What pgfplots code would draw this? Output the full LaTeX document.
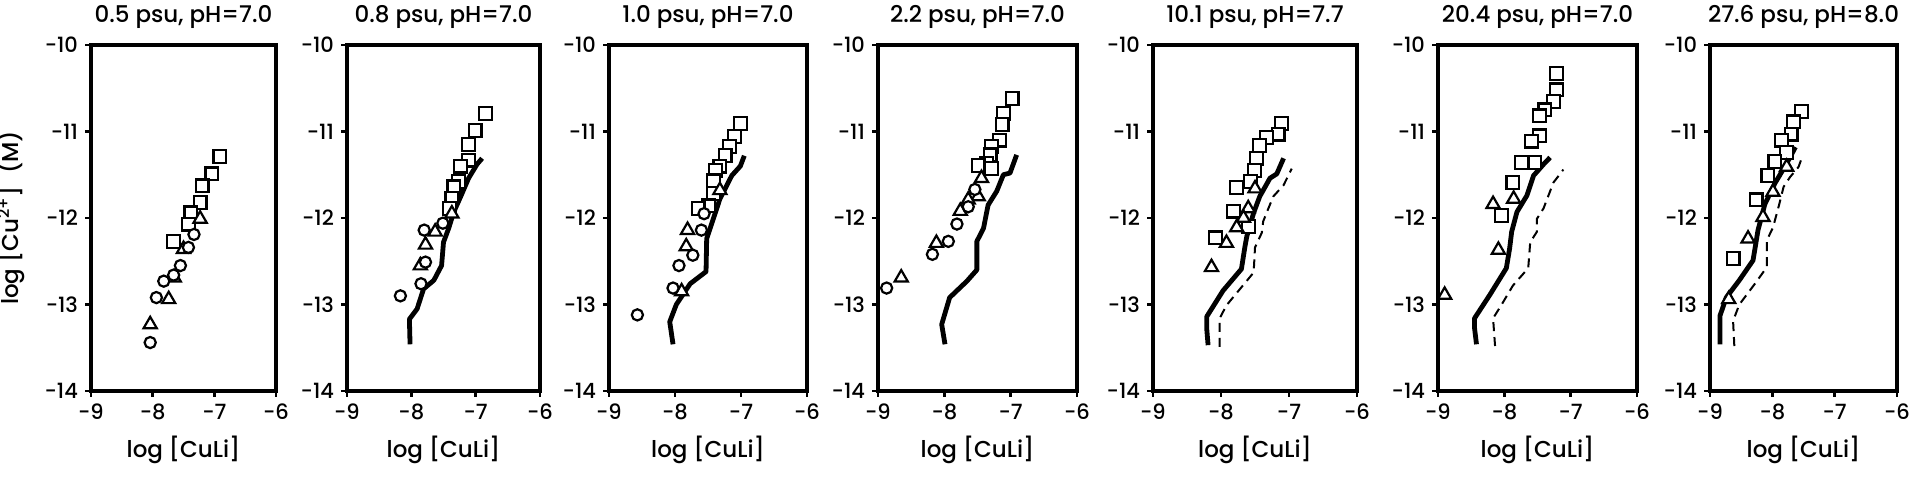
\documentclass[border=0pt]{standalone}
\usepackage{fontspec}
\IfFontExistsTF{Poppins Medium}{\setmainfont{Poppins Medium}}{\setmainfont{Poppins}}
\usepackage{pgfplots}
\pgfplotsset{compat=1.18}
\pgfplotsset{
  panel/.style={
    scale only axis, height=173pt, anchor=south west,
    xmin=-9, xmax=-6, ymin=-14, ymax=-10,
    xtick={-9,-8,-7,-6}, xticklabels={-9,-8,-7,-6},
    ytick={-14,-13,-12,-11,-10}, yticklabels={-14,-13,-12,-11,-10},
    tick align=outside, tick pos=left, major tick length=3pt,
    axis line style={line width=2.2pt},
    every tick/.style={line width=1.3pt, black},
    tick label style={font=\fontsize{10.5}{11}\selectfont},
    label style={font=\fontsize{11.5}{13}\selectfont},
    title style={font=\fontsize{11.5}{13}\selectfont, yshift=-1.5pt},
    xlabel={log [CuLi]},
    xlabel style={yshift=-1pt},
    clip=false,
  },
  sq/.style={only marks, mark=square*, mark size=3.2pt, mark options={fill=white, draw=black, line width=1.1pt}},
  tr/.style={only marks, mark=triangle*, mark size=3.8pt, mark options={fill=white, draw=black, line width=1.1pt}},
  ci/.style={only marks, mark=*, mark size=2.8pt, mark options={fill=white, draw=black, line width=1.1pt}},
  so/.style={no marks, black, line width=2.4pt, line join=round},
  da/.style={no marks, black, line width=1pt, dash pattern=on 4.5pt off 3pt},
}
\begin{document}
\begin{tikzpicture}
\useasboundingbox (0,0) rectangle (954.5pt,243pt);
% Panel 1
\begin{axis}[panel, at={(45.5pt,47.5pt)}, width=92.5pt, title={0.5 psu, pH=7.0},
  ylabel={log [Cu\textsuperscript{2+}]\ \ (M)},
  ylabel style={at={(axis description cs:0,0.5)}, anchor=center, yshift=40pt}]
\addplot[sq] coordinates {(-6.91,-11.29) (-7.04,-11.49) (-7.20,-11.63) (-7.23,-11.82) (-7.38,-11.94) (-7.42,-12.07) (-7.66,-12.27)};
\addplot[tr] coordinates {(-7.23,-12.01) (-7.50,-12.36) (-7.65,-12.69) (-7.74,-12.94) (-8.04,-13.23)};
\addplot[ci] coordinates {(-7.33,-12.19) (-7.42,-12.34) (-7.55,-12.55) (-7.66,-12.66) (-7.82,-12.73) (-7.94,-12.92) (-8.04,-13.44)};
\end{axis}
% Panel 2
\begin{axis}[panel, at={(173.5pt,47.5pt)}, width=96.5pt, title={0.8 psu, pH=7.0}]
\addplot[so] coordinates {(-8.02,-13.46) (-8.03,-13.17) (-7.91,-13.05) (-7.81,-12.82) (-7.65,-12.72) (-7.53,-12.55) (-7.50,-12.28) (-7.42,-12.12) (-7.34,-11.93) (-7.22,-11.73) (-7.11,-11.54) (-6.98,-11.38) (-6.90,-11.31)};
\addplot[sq] coordinates {(-6.85,-10.79) (-7.01,-10.99) (-7.11,-11.15) (-7.11,-11.33) (-7.24,-11.40) (-7.27,-11.58) (-7.34,-11.64) (-7.37,-11.77) (-7.41,-11.89)};
\addplot[tr] coordinates {(-7.37,-11.95) (-7.63,-12.16) (-7.78,-12.31) (-7.86,-12.55)};
\addplot[ci] coordinates {(-7.51,-12.06) (-7.80,-12.14) (-7.78,-12.51) (-7.85,-12.76) (-8.17,-12.90)};
\end{axis}
% Panel 3
\begin{axis}[panel, at={(304.5pt,47.5pt)}, width=99pt, title={1.0 psu, pH=7.0}]
\addplot[so] coordinates {(-8.03,-13.46) (-8.08,-13.20) (-7.98,-13.00) (-7.77,-12.76) (-7.53,-12.62) (-7.52,-12.24) (-7.42,-12.01) (-7.32,-11.78) (-7.14,-11.51) (-7.01,-11.40) (-6.95,-11.28)};
\addplot[sq] coordinates {(-7.01,-10.91) (-7.10,-11.06) (-7.17,-11.17) (-7.24,-11.28) (-7.32,-11.40) (-7.39,-11.45) (-7.42,-11.57) (-7.42,-11.72) (-7.49,-11.86) (-7.65,-11.89)};
\addplot[tr] coordinates {(-7.32,-11.68) (-7.81,-12.14) (-7.83,-12.33) (-7.90,-12.85)};
\addplot[ci] coordinates {(-7.56,-11.95) (-7.60,-12.14) (-7.73,-12.43) (-7.94,-12.55) (-8.03,-12.81) (-8.57,-13.12)};
\end{axis}
% Panel 4
\begin{axis}[panel, at={(439pt,47.5pt)}, width=99.5pt, title={2.2 psu, pH=7.0}]
\addplot[so] coordinates {(-7.99,-13.46) (-8.04,-13.23) (-7.92,-12.92) (-7.66,-12.73) (-7.51,-12.60) (-7.51,-12.27) (-7.41,-12.12) (-7.34,-11.85) (-7.21,-11.69) (-7.11,-11.50) (-7.01,-11.48) (-6.91,-11.27)};
\addplot[sq] coordinates {(-6.98,-10.62) (-7.11,-10.79) (-7.13,-10.92) (-7.17,-11.10) (-7.29,-11.17) (-7.31,-11.27) (-7.36,-11.37) (-7.49,-11.39) (-7.29,-11.43)};
\addplot[tr] coordinates {(-7.44,-11.54) (-7.49,-11.75) (-7.64,-11.79) (-7.76,-11.92) (-8.12,-12.29) (-8.65,-12.69)};
\addplot[ci] coordinates {(-7.54,-11.67) (-7.64,-11.87) (-7.81,-12.07) (-7.94,-12.27) (-8.18,-12.42) (-8.87,-12.81)};
\end{axis}
% Panel 5
\begin{axis}[panel, at={(576.5pt,47.5pt)}, width=102pt, title={10.1 psu, pH=7.7}]
\addplot[da] coordinates {(-8.02,-13.49) (-8.02,-13.16) (-7.92,-13.01) (-7.72,-12.82) (-7.52,-12.63) (-7.50,-12.34) (-7.40,-12.17) (-7.38,-12.04) (-7.33,-11.94) (-7.23,-11.75) (-7.08,-11.62) (-6.96,-11.43)};
\addplot[so] coordinates {(-8.19,-13.47) (-8.21,-13.28) (-8.21,-13.14) (-7.97,-12.84) (-7.70,-12.59) (-7.65,-12.34) (-7.62,-12.21) (-7.52,-11.94) (-7.43,-11.75) (-7.28,-11.54) (-7.18,-11.49) (-7.08,-11.31)};
\addplot[sq] coordinates {(-7.11,-10.91) (-7.16,-11.03) (-7.33,-11.07) (-7.43,-11.16) (-7.48,-11.31) (-7.51,-11.45) (-7.57,-11.58) (-7.77,-11.65) (-7.82,-11.92) (-8.08,-12.23) (-7.60,-12.10)};
\addplot[tr] coordinates {(-7.50,-11.66) (-7.60,-11.89) (-7.67,-12.00) (-7.77,-12.11) (-7.92,-12.29) (-8.14,-12.57)};
\end{axis}
% Panel 6
\begin{axis}[panel, at={(719pt,47.5pt)}, width=99.5pt, title={20.4 psu, pH=7.0}]
\addplot[da] coordinates {(-8.14,-13.48) (-8.17,-13.16) (-8.04,-13.00) (-7.87,-12.78) (-7.64,-12.58) (-7.61,-12.28) (-7.51,-12.16) (-7.51,-12.01) (-7.41,-11.89) (-7.26,-11.59) (-7.11,-11.44)};
\addplot[so] coordinates {(-8.42,-13.46) (-8.45,-13.27) (-8.45,-13.16) (-8.22,-12.89) (-7.97,-12.58) (-7.92,-12.35) (-7.89,-12.16) (-7.81,-11.93) (-7.66,-11.74) (-7.56,-11.51) (-7.41,-11.38) (-7.31,-11.30)};
\addplot[sq] coordinates {(-7.21,-10.33) (-7.21,-10.52) (-7.26,-10.65) (-7.39,-10.75) (-7.47,-10.82) (-7.47,-11.05) (-7.59,-11.11) (-7.54,-11.36) (-7.74,-11.36) (-7.87,-11.59) (-8.04,-11.97)};
\addplot[tr] coordinates {(-7.86,-11.78) (-8.17,-11.84) (-8.09,-12.37) (-8.90,-12.89)};
\end{axis}
% Panel 7
\begin{axis}[panel, at={(855pt,47.5pt)}, width=93.5pt, title={27.6 psu, pH=8.0}]
\addplot[da] coordinates {(-8.61,-13.48) (-8.63,-13.19) (-8.53,-13.00) (-8.28,-12.76) (-8.09,-12.57) (-8.09,-12.26) (-7.99,-12.11) (-7.90,-11.87) (-7.82,-11.64) (-7.72,-11.53) (-7.58,-11.41) (-7.53,-11.31)};
\addplot[so] coordinates {(-8.84,-13.46) (-8.84,-13.13) (-8.74,-12.92) (-8.53,-12.72) (-8.31,-12.49) (-8.23,-12.14) (-8.12,-11.84) (-7.96,-11.60) (-7.77,-11.37) (-7.63,-11.18)};
\addplot[sq] coordinates {(-7.53,-10.77) (-7.66,-10.89) (-7.70,-11.03) (-7.85,-11.10) (-7.77,-11.24) (-7.96,-11.35) (-8.07,-11.51) (-8.26,-11.79) (-8.63,-12.47)};
\addplot[tr] coordinates {(-7.77,-11.41) (-7.99,-11.70) (-8.15,-11.99) (-8.39,-12.24) (-8.70,-12.94)};
\end{axis}
\end{tikzpicture}
\end{document}
